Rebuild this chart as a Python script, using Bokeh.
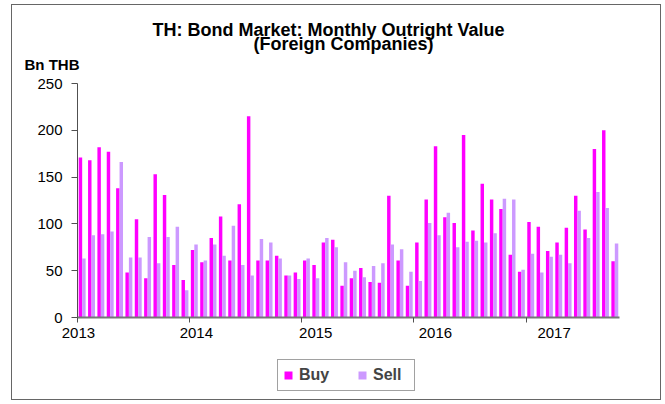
from bokeh.plotting import figure
from bokeh.models import (ColumnDataSource, FixedTicker, Range1d, Title,
                          Legend, LegendItem, LinearAxis)
from bokeh.layouts import column
from bokeh.embed import file_html
from bokeh.resources import INLINE

# ---------------- data ----------------
months = [f"{y}-{m:02d}" for y in range(2013, 2018) for m in range(1, 13)][:58]
buy = [171, 168, 182, 177, 138, 48, 105, 42, 153, 131, 56, 40,
       72, 59, 85, 108, 61, 121, 215, 61, 61, 66, 45, 48,
       61, 56, 80, 83, 34, 42, 53, 38, 37, 130, 61, 34,
       80, 126, 183, 107, 101, 195, 93, 143, 126, 116, 67, 49,
       102, 97, 71, 80, 96, 130, 94, 180, 200, 60]
sell = [63, 88, 89, 92, 166, 64, 64, 86, 58, 86, 97, 29,
        78, 61, 78, 66, 98, 56, 45, 84, 80, 63, 45, 41,
        63, 42, 85, 75, 59, 50, 43, 55, 58, 78, 73, 49,
        39, 101, 88, 112, 75, 81, 82, 80, 90, 127, 126, 51,
        68, 48, 65, 67, 58, 114, 85, 134, 117, 79]
year_labels = ["2013", "2014", "2015", "2016", "2017"]
y_ticks = [0, 50, 100, 150, 200, 250]

BUY_C = "#FF00FF"
SELL_C = "#CC99FF"
FONT = "Liberation Sans"

idx = list(range(len(months)))
src = ColumnDataSource(dict(
    month=months,
    xb=[i + 0.315 for i in idx],
    xs=[i + 0.685 for i in idx],
    buy=buy, sell=sell))

p = figure(frame_width=542, frame_height=234, output_backend="svg",
           toolbar_location=None, title=None,
           x_range=Range1d(0, len(months)), y_range=Range1d(0, 250),
           min_border_left=65, min_border_right=41, min_border_top=78,
           min_border_bottom=30)
p.outline_line_color = None
p.grid.visible = False
p.background_fill_color = "white"
p.border_fill_color = "white"

rb = p.vbar(x="xb", top="buy", width=0.37, source=src, fill_color=BUY_C,
            line_color=None)
rs = p.vbar(x="xs", top="sell", width=0.37, source=src, fill_color=SELL_C,
            line_color=None)

# y axis
p.yaxis.ticker = FixedTicker(ticks=y_ticks)
p.yaxis.axis_line_color = "#505050"
p.yaxis.major_tick_line_color = "#505050"
p.yaxis.major_tick_out = 6
p.yaxis.major_tick_in = 0
p.yaxis.minor_tick_line_color = None
p.yaxis.major_label_text_font = FONT
p.yaxis.major_label_text_font_size = "15px"
p.yaxis.major_label_text_color = "black"
p.yaxis.major_label_standoff = 9

# x axis: tick marks at year boundaries
p.xaxis.ticker = FixedTicker(ticks=[0, 12, 24, 36, 48])
p.xaxis.axis_line_color = "#777777"
p.xaxis.axis_line_width = 2
p.xaxis.major_tick_line_color = "#505050"
p.xaxis.major_tick_out = 5
p.xaxis.major_tick_in = 0
p.xaxis.minor_tick_line_color = None
p.xaxis.major_label_text_font_size = "0px"
p.xaxis.major_label_standoff = 0

# second axis carrying the year labels where the reference draws them
year_pos = [0.1, 12.72, 25.5, 38.3, 51.0]
lab_axis = LinearAxis(ticker=FixedTicker(ticks=year_pos),
                      major_label_overrides={v: t for v, t in zip(year_pos, year_labels)},
                      axis_line_color=None, major_tick_line_color=None,
                      minor_tick_line_color=None, major_tick_out=0,
                      major_tick_in=0, major_label_standoff=5,
                      major_label_text_font=FONT,
                      major_label_text_font_size="15px",
                      major_label_text_color="black")
p.add_layout(lab_axis, "below")

# titles (first added sits closest to the plot)
p.add_layout(Title(text="Bn THB", align="left", offset=-53, standoff=21,
                   text_font=FONT, text_font_style="bold",
                   text_font_size="15px", text_color="black"), "above")
p.add_layout(Title(text="(Foreign Companies)", align="left", offset=176,
                   standoff=-20, text_font=FONT, text_font_style="bold",
                   text_font_size="18px", text_color="black"), "above")
p.add_layout(Title(text="TH: Bond Market: Monthly Outright Value",
                   align="left", offset=75, standoff=3,
                   text_font=FONT, text_font_style="bold",
                   text_font_size="18px", text_color="black"), "above")

# legend strip below the chart; its swatch renderers hold no visible bar
nan = float("nan")
leg_src = ColumnDataSource(dict(x=[nan], top=[nan]))
lf = figure(width=648, height=52, output_backend="svg", toolbar_location=None,
            title=None, x_axis_type=None, y_axis_type=None,
            x_range=Range1d(0, 1), y_range=Range1d(0, 1),
            min_border=0)
lf.outline_line_color = None
lf.grid.visible = False
lb = lf.vbar(x="x", top="top", width=0.1, source=leg_src, fill_color=BUY_C,
             line_color=None)
ls = lf.vbar(x="x", top="top", width=0.1, source=leg_src, fill_color=SELL_C,
             line_color=None)
legend = Legend(items=[LegendItem(label="Buy", renderers=[lb], index=0),
                       LegendItem(label="Sell", renderers=[ls], index=0)],
                orientation="horizontal", location=(200, 8),
                label_text_font=FONT, label_text_font_style="bold",
                label_text_font_size="16px", glyph_width=10, glyph_height=10,
                label_standoff=6, label_width=36, spacing=22, padding=5,
                margin=0, label_height=20,
                border_line_color="#444444", border_line_width=1,
                background_fill_color="white")
lf.add_layout(legend, "center")

page = column(p, lf, spacing=0)
page.styles = {"margin-left": "11px", "margin-top": "4px",
               "border": "1px solid #666666"}

open("out.html", "w").write(file_html(page, INLINE))
